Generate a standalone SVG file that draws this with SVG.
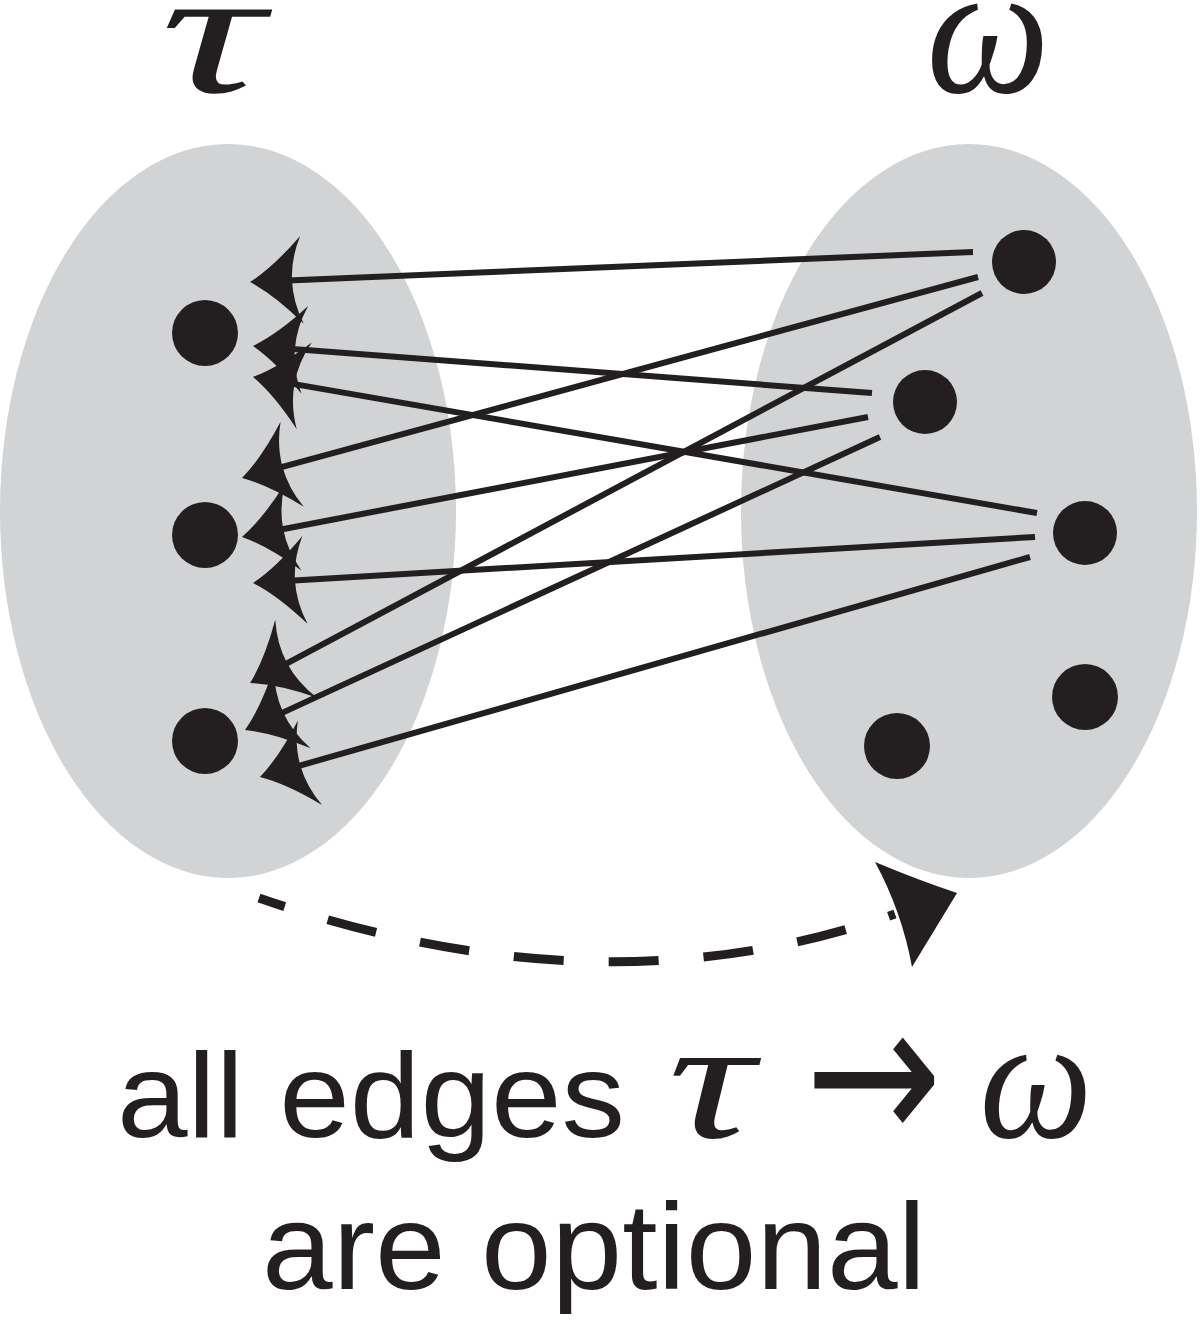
<svg xmlns="http://www.w3.org/2000/svg" width="1200" height="1322" viewBox="0 0 1200 1322">
<style>
.set{fill:#d1d3d4}
.node{fill:#231f20}
.edge{stroke:#231f20;stroke-width:6;fill:none;marker-end:url(#ah)}
.dash{stroke:#231f20;stroke-width:9;fill:none;stroke-dasharray:50 45;stroke-dashoffset:23}
.math{font-family:"Liberation Serif","DejaVu Serif",serif;font-style:italic;fill:#231f20}
.cap{font-family:"Liberation Sans",Arial,sans-serif;fill:#231f20}
</style>
<defs>
<marker id="ah" markerUnits="userSpaceOnUse" orient="auto" refX="0" refY="0" markerWidth="80" markerHeight="100" overflow="visible">
<path d="M20,0 Q-4,-14 -32,-44 Q-22,-22 -22,0 Q-22,22 -32,44 Q-4,14 20,0 Z" fill="#231f20"/>
</marker>
</defs>
<rect width="1200" height="1322" fill="#ffffff"/>
<g id="set-tau"><ellipse class="set" cx="228" cy="511" rx="228" ry="367"/></g>
<g id="set-omega"><ellipse class="set" cx="969" cy="511" rx="228" ry="367"/></g>
<g id="label-tau"><text class="math" transform="translate(212,92) scale(1.6,1)" x="0" y="0" font-size="180" text-anchor="middle">τ</text></g>
<g id="label-omega"><text class="math" transform="translate(988,92) scale(1,1.08)" x="0" y="0" font-size="175" text-anchor="middle">ω</text></g>
<g id="connectors">
<path class="edge" d="M973,252 L270,281.2"/>
<path class="edge" d="M978,277 L261.3,472.7"/>
<path class="edge" d="M982,293 L267.7,673.6"/>
<path class="edge" d="M872,393 L272.9,347.5"/>
<path class="edge" d="M868,417 L261.6,533.2"/>
<path class="edge" d="M880,437 L263.2,721.6"/>
<path class="edge" d="M1037,513 L272.7,380.4"/>
<path class="edge" d="M1035,537 L273,581.8"/>
<path class="edge" d="M1030,557 L279.2,771.5"/>
<path class="dash" d="M259,898 Q602,1017 895,914"/>
<path d="M875,862 Q918,880 957,893 L912,967 Q902,912 875,862 Z" fill="#231f20"/>
</g>
<g id="node-t1"><circle class="node" cx="205" cy="333" r="33"/></g>
<g id="node-t2"><circle class="node" cx="205" cy="535" r="33"/></g>
<g id="node-t3"><circle class="node" cx="205" cy="741" r="33"/></g>
<g id="node-w1"><circle class="node" cx="1024" cy="262" r="32"/></g>
<g id="node-w2"><circle class="node" cx="925" cy="402" r="32"/></g>
<g id="node-w3"><circle class="node" cx="1085" cy="533" r="32"/></g>
<g id="node-w4"><circle class="node" cx="1085" cy="697" r="33"/></g>
<g id="node-w5"><circle class="node" cx="897" cy="746" r="33"/></g>
<g id="caption">
<text class="cap" x="117" y="1137" font-size="120" textLength="508" lengthAdjust="spacingAndGlyphs">all edges</text>
<text class="math" transform="translate(711,1137) scale(1.5,1.07)" x="0" y="0" font-size="160" text-anchor="middle">τ</text>
<text x="805" y="1143" font-size="200" textLength="137" lengthAdjust="spacingAndGlyphs" font-family="'DejaVu Sans',sans-serif" fill="#231f20">→</text>
<text class="math" transform="translate(1036,1137) scale(1,1.1)" x="0" y="0" font-size="160" text-anchor="middle">ω</text>
<text class="cap" x="262" y="1289" font-size="122" textLength="664" lengthAdjust="spacingAndGlyphs">are optional</text>
</g>
</svg>
